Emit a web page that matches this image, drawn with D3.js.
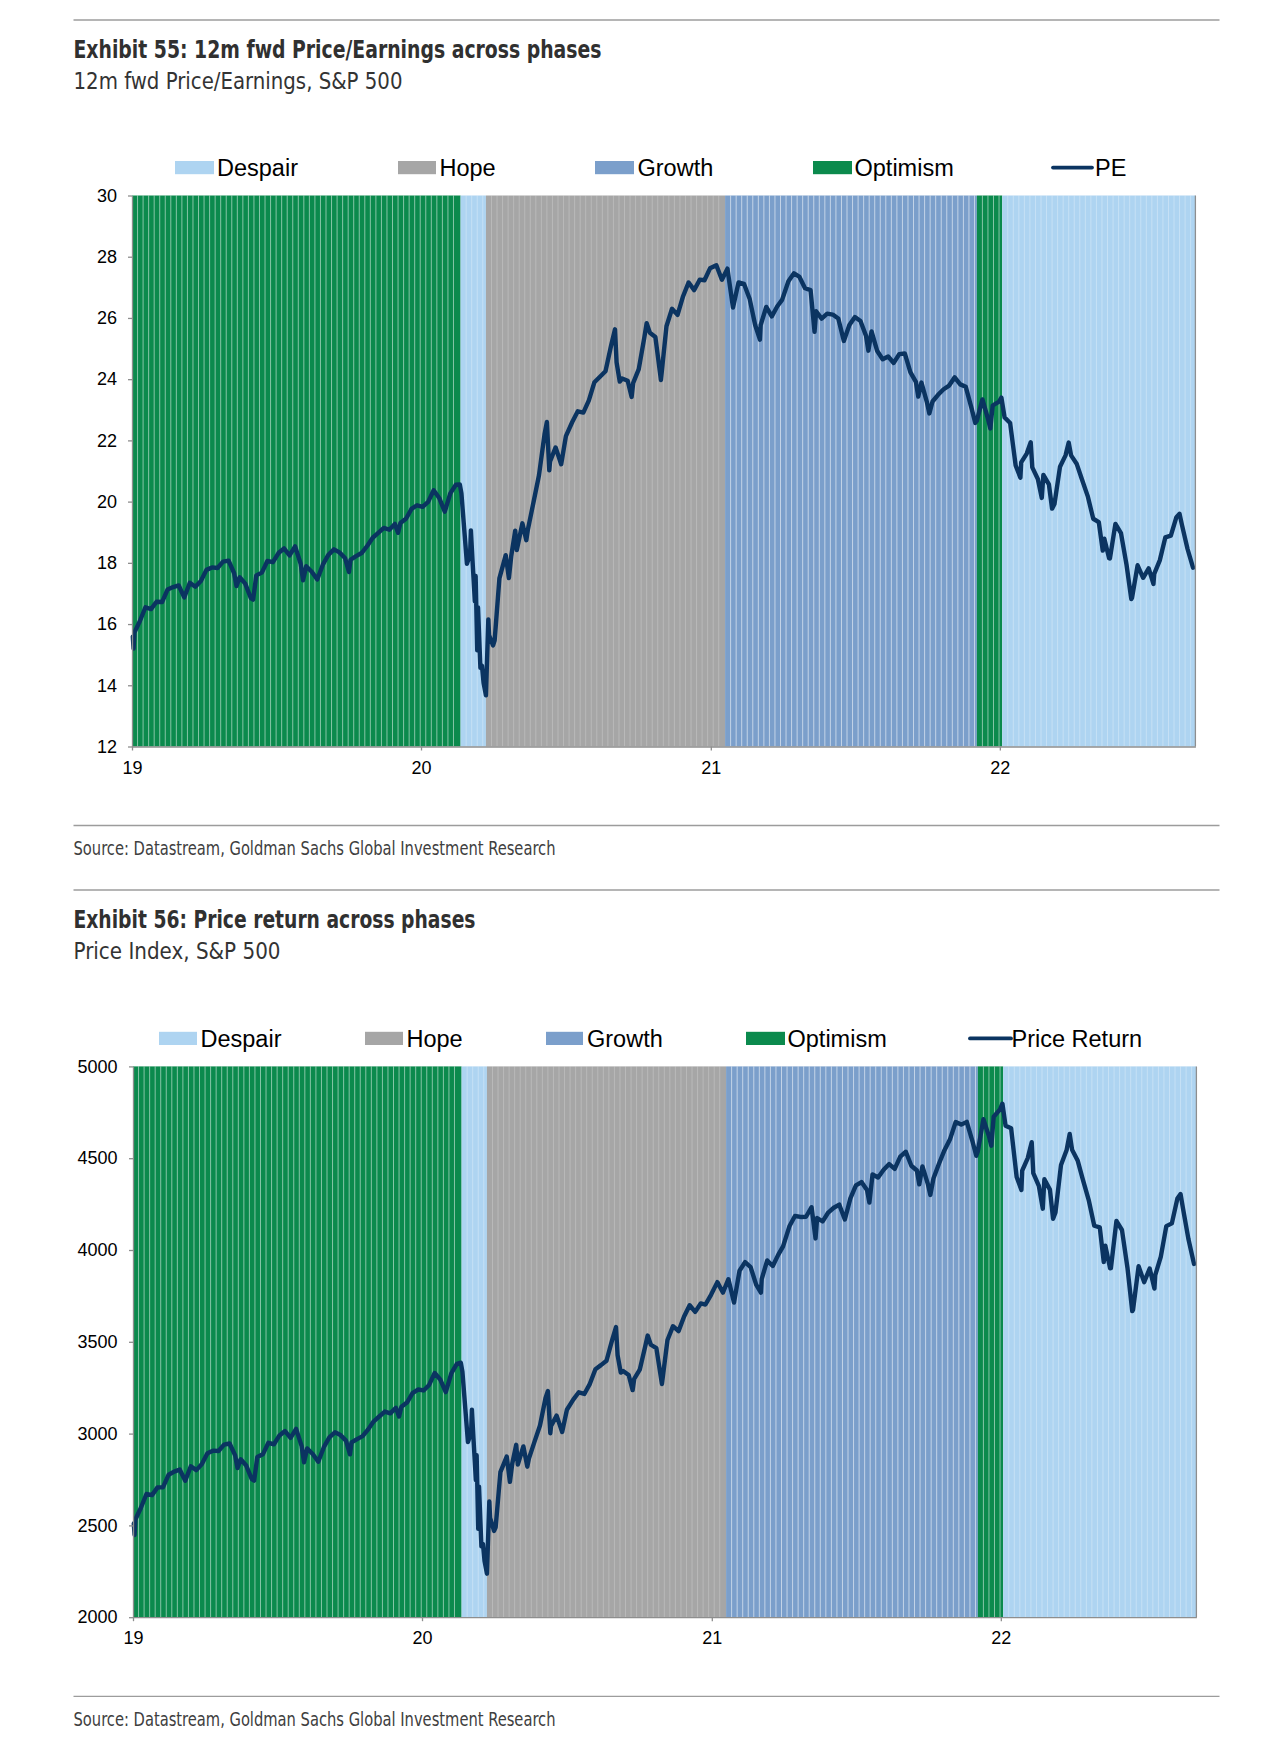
<!DOCTYPE html>
<html><head><meta charset="utf-8">
<script src="https://cdn.jsdelivr.net/npm/d3@7"></script>
<style>
html,body{margin:0;padding:0;background:#fff;}
svg{display:block;}
</style></head>
<body>
<svg id="c" width="1273" height="1749"></svg>
<script>
// ---------------- DATA ----------------
const phaseNames  = ["Optimism", "Despair", "Hope", "Growth", "Optimism", "Despair"];
const phaseStarts = ["2019-01-01", "2020-02-20", "2020-03-23", "2021-01-19", "2021-12-03", "2022-01-04"];
const phaseEnds   = ["2020-02-20", "2020-03-23", "2021-01-19", "2021-12-03", "2022-01-04", "2022-09-05"];
const legendPhases = ["Despair", "Hope", "Growth", "Optimism"];

const yearTickDates  = ["2019-01-01", "2020-01-01", "2021-01-01", "2022-01-01"];
const yearTickLabels = ["19", "20", "21", "22"];
const peTicks    = [12, 14, 16, 18, 20, 22, 24, 26, 28, 30];
const priceTicks = [2000, 2500, 3000, 3500, 4000, 4500, 5000];

const dates = [
"2019-01-02","2019-01-03","2019-01-04","2019-01-11","2019-01-18","2019-01-25","2019-02-01","2019-02-08","2019-02-15","2019-02-22",
"2019-03-01","2019-03-08","2019-03-15","2019-03-22","2019-03-29","2019-04-05","2019-04-12","2019-04-19","2019-04-26","2019-05-03",
"2019-05-10","2019-05-13","2019-05-17","2019-05-24","2019-05-31","2019-06-03","2019-06-07","2019-06-14","2019-06-21","2019-06-28",
"2019-07-05","2019-07-12","2019-07-19","2019-07-26","2019-08-02","2019-08-05","2019-08-09","2019-08-16","2019-08-23","2019-08-30",
"2019-09-06","2019-09-13","2019-09-20","2019-09-27","2019-10-02","2019-10-04","2019-10-11","2019-10-18","2019-10-25","2019-11-01",
"2019-11-08","2019-11-15","2019-11-22","2019-11-29","2019-12-03","2019-12-06","2019-12-13","2019-12-20","2019-12-27",
"2020-01-03","2020-01-10","2020-01-17","2020-01-24","2020-01-31","2020-02-07","2020-02-14","2020-02-19","2020-02-21","2020-02-28",
"2020-03-03","2020-03-04","2020-03-06","2020-03-09","2020-03-10","2020-03-12","2020-03-13","2020-03-16","2020-03-18","2020-03-20",
"2020-03-23","2020-03-26","2020-03-27","2020-04-01","2020-04-03","2020-04-09","2020-04-17","2020-04-21","2020-04-24","2020-04-29",
"2020-05-01","2020-05-08","2020-05-13","2020-05-15","2020-05-22","2020-05-29","2020-06-05","2020-06-08","2020-06-11","2020-06-12",
"2020-06-19","2020-06-26","2020-07-02","2020-07-10","2020-07-17","2020-07-24","2020-07-31","2020-08-07","2020-08-14","2020-08-21",
"2020-08-28","2020-09-02","2020-09-04","2020-09-08","2020-09-11","2020-09-18","2020-09-23","2020-09-25","2020-10-02","2020-10-09",
"2020-10-12","2020-10-16","2020-10-23","2020-10-30","2020-11-06","2020-11-13","2020-11-20","2020-11-27","2020-12-04","2020-12-11",
"2020-12-18","2020-12-24","2020-12-31",
"2021-01-08","2021-01-15","2021-01-22","2021-01-29","2021-02-05","2021-02-12","2021-02-19","2021-02-26","2021-03-04","2021-03-05",
"2021-03-12","2021-03-19","2021-03-26","2021-04-01","2021-04-09","2021-04-16","2021-04-23","2021-04-30","2021-05-07","2021-05-12",
"2021-05-14","2021-05-21","2021-05-28","2021-06-04","2021-06-11","2021-06-18","2021-06-25","2021-07-02","2021-07-09","2021-07-16",
"2021-07-19","2021-07-23","2021-07-30","2021-08-06","2021-08-13","2021-08-20","2021-08-27","2021-09-03","2021-09-10","2021-09-17",
"2021-09-20","2021-09-24","2021-10-01","2021-10-04","2021-10-08","2021-10-15","2021-10-22","2021-10-29","2021-11-05","2021-11-12",
"2021-11-19","2021-11-26","2021-12-01","2021-12-03","2021-12-10","2021-12-17","2021-12-20","2021-12-23","2021-12-31",
"2022-01-03","2022-01-07","2022-01-14","2022-01-21","2022-01-27","2022-01-28","2022-02-04","2022-02-09","2022-02-11","2022-02-18",
"2022-02-23","2022-02-25","2022-03-04","2022-03-08","2022-03-11","2022-03-18","2022-03-25","2022-03-29","2022-04-01","2022-04-08",
"2022-04-14","2022-04-22","2022-04-29","2022-05-06","2022-05-11","2022-05-13","2022-05-19","2022-05-20","2022-05-27","2022-06-03",
"2022-06-10","2022-06-16","2022-06-17","2022-06-24","2022-07-01","2022-07-08","2022-07-14","2022-07-15","2022-07-22","2022-07-29",
"2022-08-05","2022-08-12","2022-08-16","2022-08-19","2022-08-26","2022-09-02"
];

const peValues = [
15.59,15.20,15.72,16.10,16.55,16.49,16.73,16.72,17.13,17.21,
17.26,16.87,17.35,17.22,17.41,17.77,17.85,17.83,18.04,18.07,
17.66,17.24,17.53,17.32,16.85,16.80,17.59,17.68,18.06,18.02,
18.32,18.47,18.24,18.54,17.97,17.43,17.89,17.71,17.46,17.94,
18.26,18.44,18.34,18.16,17.70,18.10,18.22,18.32,18.55,18.82,
18.98,19.14,19.08,19.27,18.98,19.30,19.44,19.76,19.88,
19.83,19.99,20.37,20.12,19.67,20.27,20.55,20.56,20.28,17.97,
18.28,19.06,18.10,16.74,17.57,15.14,16.54,14.57,14.64,14.08,
13.67,16.15,15.63,15.30,15.47,17.49,18.25,17.50,18.23,19.05,
18.42,19.29,18.74,19.09,19.97,20.86,22.20,22.60,21.02,21.31,
21.77,21.22,22.14,22.60,22.95,22.91,23.31,23.90,24.08,24.26,
25.09,25.63,24.55,23.92,24.02,23.95,23.42,23.88,24.33,25.36,
25.83,25.52,25.38,23.97,25.73,26.30,26.10,26.71,27.16,26.91,
27.25,27.23,27.62,
27.72,27.25,27.61,26.34,27.16,27.11,26.63,25.77,25.29,25.77,
26.36,26.05,26.38,26.59,27.20,27.46,27.34,26.97,26.91,25.55,
26.22,25.98,26.14,26.11,25.98,25.25,25.77,26.03,25.90,25.42,
24.93,25.56,24.93,24.65,24.74,24.53,24.82,24.84,24.23,23.91,
23.43,23.89,23.24,22.88,23.27,23.49,23.67,23.79,24.06,23.83,
23.75,23.08,22.57,22.64,23.34,22.71,22.39,23.14,23.27,
23.40,22.75,22.57,21.18,20.78,21.28,21.57,21.94,21.12,20.74,
20.12,20.87,20.56,19.77,19.92,21.14,21.51,21.93,21.51,21.24,
20.78,20.18,19.44,19.33,18.40,18.79,18.15,18.14,19.27,18.97,
17.94,16.82,16.86,17.92,17.51,17.82,17.31,17.64,18.08,18.83,
18.89,19.49,19.60,19.24,18.46,17.84
];

const priceValues = [
2510,2448,2532,2596,2671,2665,2707,2708,2776,2793,
2804,2743,2822,2801,2834,2893,2907,2905,2940,2946,
2881,2812,2860,2826,2752,2744,2873,2887,2950,2942,
2990,3014,2977,3026,2932,2844,2919,2889,2847,2926,
2979,3007,2992,2962,2887,2952,2970,2986,3023,3067,
3093,3120,3110,3141,3093,3146,3169,3221,3240,
3235,3265,3330,3295,3226,3328,3380,3386,3338,2954,
3003,3130,2972,2747,2882,2481,2711,2386,2398,2305,
2237,2630,2541,2470,2489,2790,2875,2737,2837,2939,
2831,2930,2820,2864,2955,3044,3194,3232,3002,3041,
3098,3009,3130,3185,3225,3216,3271,3351,3373,3397,
3508,3580,3427,3332,3341,3319,3237,3298,3348,3477,
3534,3484,3465,3270,3510,3585,3558,3638,3699,3663,
3709,3703,3756,
3825,3768,3841,3714,3887,3934,3907,3811,3768,3842,
3943,3913,3975,4020,4129,4185,4180,4181,4233,4063,
4174,4156,4204,4230,4247,4166,4281,4352,4370,4327,
4258,4412,4395,4437,4468,4442,4509,4535,4459,4433,
4358,4455,4357,4300,4391,4471,4545,4605,4697,4683,
4698,4595,4513,4538,4712,4620,4568,4726,4766,
4797,4677,4663,4398,4327,4432,4501,4587,4419,4349,
4225,4385,4329,4170,4204,4463,4543,4632,4546,4488,
4393,4272,4132,4123,3935,4024,3900,3901,4158,4109,
3901,3667,3675,3912,3825,3899,3790,3863,3962,4130,
4145,4280,4305,4228,4058,3924
];

// ---------------- STYLE ----------------
const phaseColor = {Optimism:"#0b8a4d", Despair:"#aed4f1", Hope:"#a6a6a6", Growth:"#7b9fcb"};
const stripeOpacity = {Optimism:0.5, Despair:0.3, Hope:0.22, Growth:0.55};
const lineColor = "#0b3461";
const axisColor = "#8e8e8e";
const condensed = "'Liberation Sans Narrow','DejaVu Sans Condensed','Arial Narrow',sans-serif";
const sans = "'Liberation Sans',Arial,Helvetica,sans-serif";

const svg = d3.select("#c");
const parse = d3.timeParse("%Y-%m-%d");
const sourceText = "Source: Datastream, Goldman Sachs Global Investment Research";

function rule(y){
  svg.append("line").attr("x1",73.5).attr("x2",1219.5).attr("y1",y).attr("y2",y)
    .attr("stroke","#9c9c9c").attr("stroke-width",1.4);
}
function fitted(x,y,txt,size,weight,w,fill){
  return svg.append("text").attr("x",x).attr("y",y).text(txt)
    .attr("font-family",condensed).attr("font-size",size).attr("font-weight",weight)
    .attr("fill",fill).attr("textLength",w).attr("lengthAdjust","spacingAndGlyphs");
}

function panel(cfg){
  fitted(73.5, cfg.titleY, cfg.title, 24, "bold", cfg.titleW, "#303030");
  fitted(73.5, cfg.subY, cfg.sub, 22.5, "normal", cfg.subW, "#333");

  // legend
  const lg = svg.append("g").attr("font-family",sans).attr("font-size",23.5).attr("fill","#000");
  legendPhases.forEach((p,i)=>{
    const L = cfg.legend[i];
    lg.append("rect").attr("x",L[0]).attr("y",cfg.legendY-6.6).attr("width",L[1]-L[0]).attr("height",13.2)
      .attr("fill",phaseColor[p]);
    lg.append("text").attr("x",L[2]).attr("y",cfg.legendY+8.6).text(p);
  });
  const LL = cfg.legend[4];
  lg.append("line").attr("x1",LL[0]).attr("x2",LL[1]).attr("y1",cfg.legendY).attr("y2",cfg.legendY)
    .attr("stroke",lineColor).attr("stroke-width",3.8).attr("stroke-linecap","round");
  lg.append("text").attr("x",LL[2]).attr("y",cfg.legendY+8.6).text(cfg.lineName);

  const p = cfg.plot;
  const x = d3.scaleTime().domain([parse(phaseStarts[0]), parse(phaseEnds[phaseEnds.length-1])]).range([p.x0,p.x1]);
  const y = d3.scaleLinear().domain(cfg.yDomain).range([p.y1,p.y0]);

  // phase columns: solid band + light weekly separators
  const bands = svg.append("g");
  phaseNames.forEach((name,i)=>{
    const s = parse(phaseStarts[i]), e = parse(phaseEnds[i]);
    bands.append("rect").attr("x",x(s)).attr("y",p.y0).attr("width",x(e)-x(s))
      .attr("height",p.y1-p.y0).attr("fill",phaseColor[name]);
  });
  phaseNames.forEach((name,i)=>{
    const s = parse(phaseStarts[i]), e = parse(phaseEnds[i]);
    let t = d3.timeDay.offset(s,7);
    while (t < d3.timeDay.offset(e,-2)) {
      const xx = x(t) - 0.5;
      bands.append("rect").attr("x",xx).attr("y",p.y0).attr("width",1).attr("height",p.y1-p.y0)
        .attr("fill","#ffffff").attr("fill-opacity",stripeOpacity[name]);
      t = d3.timeDay.offset(t,7);
    }
  });

  // line
  const pts = dates.map((d,i)=>({date:parse(d), v:cfg.values[i]}));
  svg.append("path").datum(pts)
    .attr("d", d3.line().x(d=>x(d.date)).y(d=>y(d.v)))
    .attr("fill","none").attr("stroke",lineColor).attr("stroke-width",4.4)
    .attr("stroke-linejoin","round").attr("stroke-linecap","round");

  // axes
  const ya = svg.append("g").attr("transform",`translate(${p.x0},0)`)
    .call(d3.axisLeft(y).tickValues(cfg.yTicks).tickSize(4).tickSizeOuter(0).tickPadding(cfg.yPad).tickFormat(d3.format("d")));
  const xa = svg.append("g").attr("transform",`translate(0,${p.y1})`)
    .call(d3.axisBottom(x).tickValues(yearTickDates.map(parse)).tickSize(4).tickSizeOuter(0).tickPadding(10.5)
      .tickFormat((d,i)=>yearTickLabels[i]));
  [ya,xa].forEach(a=>{
    a.selectAll("path,line").attr("stroke",axisColor).attr("stroke-width",1.3);
    a.selectAll("text").attr("font-family",sans).attr("font-size",18).attr("fill","#000");
  });
  svg.append("line").attr("x1",p.x1).attr("x2",p.x1).attr("y1",p.y0).attr("y2",p.y1)
    .attr("stroke",axisColor).attr("stroke-width",1.3);

  rule(cfg.ruleY);
  fitted(73.5, cfg.sourceY, sourceText, 19, "normal", 482, "#404040");
}

rule(20);
panel({
  title:"Exhibit 55: 12m fwd Price/Earnings across phases", titleY:58.3, titleW:528,
  sub:"12m fwd Price/Earnings, S&P 500", subY:89.3, subW:329,
  legendY:167.6,
  legend:[[175,214,217],[398,436,439.5],[595,634,637.5],[813,852,854.5],[1053,1092,1095]],
  lineName:"PE",
  plot:{x0:132,x1:1195.4,y0:195.5,y1:746.5},
  yDomain:[12,30], yTicks:peTicks, yPad:11, values:peValues,
  ruleY:825.5, sourceY:855
});
rule(890);
panel({
  title:"Exhibit 56: Price return across phases", titleY:928.3, titleW:402,
  sub:"Price Index, S&P 500", subY:959.3, subW:207,
  legendY:1038.4,
  legend:[[159,197,200.5],[365,403,406.5],[546,583,587],[746,785,787.5],[970,1011,1011.5]],
  lineName:"Price Return",
  plot:{x0:133,x1:1196.4,y0:1066.4,y1:1617.2},
  yDomain:[2000,5000], yTicks:priceTicks, yPad:11.5, values:priceValues,
  ruleY:1696.4, sourceY:1725.5
});
</script>
</body></html>
